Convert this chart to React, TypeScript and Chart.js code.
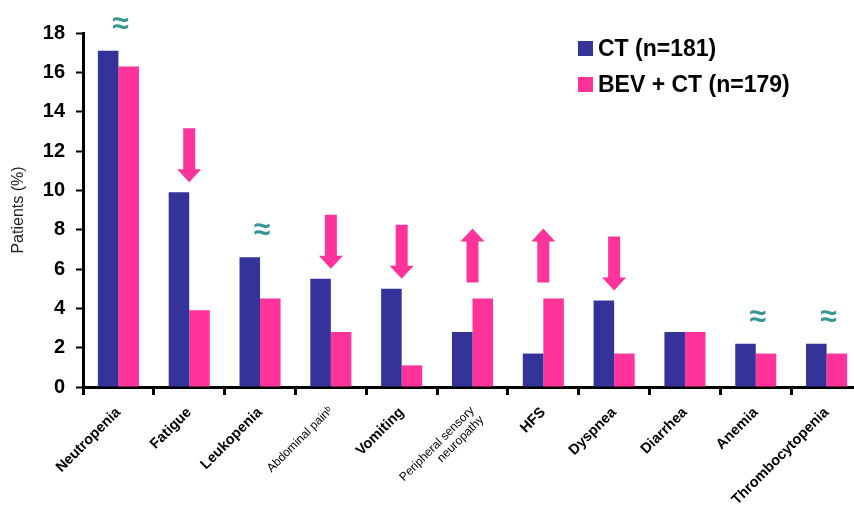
import React, { useEffect, useRef } from 'react';
import { Chart, registerables } from 'chart.js';

Chart.register(...registerables);

const FONT = "Arial, 'Liberation Sans', sans-serif";

const categories: (string | string[])[] = [
  'Neutropenia',
  'Fatigue',
  'Leukopenia',
  'Abdominal pain\u1D47',
  'Vomiting',
  ['Peripheral sensory', 'neuropathy'],
  'HFS',
  'Dyspnea',
  'Diarrhea',
  'Anemia',
  'Thrombocytopenia',
];
const smallLabel = [false, false, false, true, false, true, false, false, false, false, false];

const seriesNames = ['CT (n=181)', 'BEV + CT (n=179)'];
const ctValues = [17.1, 9.9, 6.6, 5.5, 5.0, 2.8, 1.7, 4.4, 2.8, 2.2, 2.2];
const bevValues = [16.3, 3.9, 4.5, 2.8, 1.1, 4.5, 4.5, 1.7, 2.8, 1.7, 1.7];

// change markers per category: '≈' similar, 'down' decreased with BEV, 'up' increased
const markers = ['approx', 'down', 'approx', 'down', 'down', 'up', 'up', 'down', '', 'approx', 'approx'];

const yTicks = [0, 2, 4, 6, 8, 10, 12, 14, 16, 18];

const BLUE = '#333399';
const PINK = '#FF3399';
const TEAL = '#379696';

const annotationPlugin = {
  id: 'annotations',
  afterDatasetsDraw(chart: any) {
    const ctx = chart.ctx;
    const xs = chart.scales.x;
    const ys = chart.scales.y;
    ctx.save();
    markers.forEach((m, i) => {
      if (!m) return;
      const cx = xs.getPixelForValue(i);
      const top = ys.getPixelForValue(Math.max(ctValues[i], bevValues[i]));
      if (m === 'approx') {
        ctx.fillStyle = TEAL;
        ctx.font = `bold 30px ${FONT}`;
        ctx.textAlign = 'center';
        ctx.textBaseline = 'middle';
        ctx.fillText('\u2248', cx + 2, top - 26);
      } else {
        const shaftW = 12;
        const headW = 24;
        const headL = 13;
        const len = 54;
        ctx.fillStyle = PINK;
        ctx.beginPath();
        if (m === 'down') {
          const tip = top - 10;
          const start = tip - len;
          ctx.moveTo(cx - shaftW / 2, start);
          ctx.lineTo(cx + shaftW / 2, start);
          ctx.lineTo(cx + shaftW / 2, tip - headL);
          ctx.lineTo(cx + headW / 2, tip - headL);
          ctx.lineTo(cx, tip);
          ctx.lineTo(cx - headW / 2, tip - headL);
          ctx.lineTo(cx - shaftW / 2, tip - headL);
        } else {
          const bottom = top - 16;
          const tip = bottom - len;
          ctx.moveTo(cx - shaftW / 2, bottom);
          ctx.lineTo(cx + shaftW / 2, bottom);
          ctx.lineTo(cx + shaftW / 2, tip + headL);
          ctx.lineTo(cx + headW / 2, tip + headL);
          ctx.lineTo(cx, tip);
          ctx.lineTo(cx - headW / 2, tip + headL);
          ctx.lineTo(cx - shaftW / 2, tip + headL);
        }
        ctx.closePath();
        ctx.fill();
      }
    });
    ctx.restore();
  },
};

const legendPlugin = {
  id: 'customLegend',
  afterDraw(chart: any) {
    const ctx = chart.ctx;
    ctx.save();
    const x0 = 578;
    const y0 = 48.5;
    const gap = 36;
    chart.data.datasets.forEach((ds: any, i: number) => {
      const cy = y0 + i * gap;
      ctx.fillStyle = ds.backgroundColor;
      ctx.fillRect(x0, cy - 7.5, 15, 15);
      ctx.fillStyle = '#000';
      ctx.font = `bold 23px ${FONT}`;
      ctx.textAlign = 'left';
      ctx.textBaseline = 'middle';
      ctx.fillText(ds.label, x0 + 20, cy + 1);
    });
    ctx.restore();
  },
};

export default function App() {
  const ref = useRef<HTMLCanvasElement>(null);

  useEffect(() => {
    if (!ref.current) return;
    const chart = new Chart(ref.current, {
      type: 'bar',
      data: {
        labels: categories as any,
        datasets: [
          {
            label: seriesNames[0],
            data: ctValues,
            backgroundColor: BLUE,
            borderWidth: 0,
            barPercentage: 1,
            categoryPercentage: 0.58,
          },
          {
            label: seriesNames[1],
            data: bevValues,
            backgroundColor: PINK,
            borderWidth: 0,
            barPercentage: 1,
            categoryPercentage: 0.58,
          },
        ],
      },
      options: {
        responsive: false,
        animation: false,
        layout: { padding: { top: 33, left: 0, right: 0, bottom: 0 } },
        plugins: {
          legend: { display: false },
          tooltip: { enabled: false },
        },
        scales: {
          x: {
            type: 'category',
            offset: true,
            grid: {
              display: true,
              offset: true,
              drawOnChartArea: false,
              drawTicks: true,
              tickLength: 8,
              tickWidth: 3,
              tickColor: '#000',
            },
            border: { display: true, width: 3, color: '#000' },
            ticks: {
              autoSkip: false,
              maxRotation: 45,
              minRotation: 45,
              padding: 9,
              color: '#000',
              font: (c: any) =>
                smallLabel[c.index]
                  ? { family: FONT, size: 12, weight: 'normal', lineHeight: 1.1 }
                  : { family: FONT, size: 14.5, weight: 'bold' },
            },
            afterFit: (scale: any) => {
              scale.height = 118;
            },
          },
          y: {
            min: 0,
            max: 18,
            afterBuildTicks: (scale: any) => {
              scale.ticks = yTicks.map((v) => ({ value: v }));
            },
            grid: {
              display: true,
              drawOnChartArea: false,
              drawTicks: true,
              tickLength: 7,
              tickWidth: 2,
              tickColor: '#000',
            },
            border: { display: true, width: 3, color: '#000' },
            ticks: {
              color: '#000',
              padding: 11,
              font: { family: FONT, size: 20, weight: 'bold' },
            },
            title: {
              display: true,
              text: 'Patients (%)',
              color: '#222',
              padding: { top: 9, bottom: 0 },
              font: { family: FONT, size: 16, weight: 'normal' },
            },
            afterFit: (scale: any) => {
              scale.width = 83;
            },
          },
        },
      },
      plugins: [annotationPlugin, legendPlugin],
    });
    return () => chart.destroy();
  }, []);

  return (
    <div
      style={{
        position: 'fixed',
        left: 0,
        top: 0,
        width: 854,
        height: 505,
        overflow: 'hidden',
        background: '#fff',
      }}
    >
      <canvas ref={ref} width={862} height={505} style={{ display: 'block' }} />
    </div>
  );
}
